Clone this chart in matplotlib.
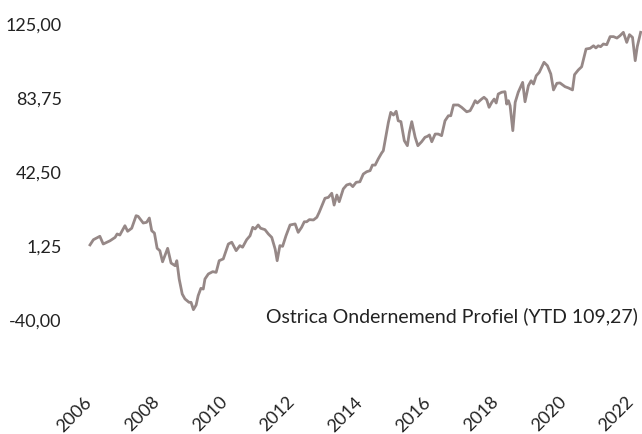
import matplotlib.pyplot as plt
from matplotlib import ticker

# decimal year / cumulative return (%)
years = [
    2006.03, 2006.13, 2006.32, 2006.42, 2006.62, 2006.77, 2006.83, 2006.91,
    2007.06, 2007.14, 2007.26, 2007.39, 2007.45, 2007.60, 2007.70, 2007.78,
    2007.85, 2007.93, 2008.01, 2008.09, 2008.17, 2008.32, 2008.42, 2008.54,
    2008.59, 2008.66, 2008.75, 2008.83, 2008.95, 2009.01, 2009.08, 2009.16,
    2009.22, 2009.30, 2009.37, 2009.42, 2009.52, 2009.65, 2009.75, 2009.84,
    2009.96, 2010.11, 2010.21, 2010.34, 2010.45, 2010.53, 2010.65, 2010.75,
    2010.83, 2010.90, 2010.99, 2011.06, 2011.19, 2011.29, 2011.39, 2011.49,
    2011.55, 2011.63, 2011.71, 2011.81, 2011.93, 2012.08, 2012.17, 2012.27,
    2012.35, 2012.42, 2012.50, 2012.62, 2012.72, 2012.79, 2012.96, 2013.06,
    2013.16, 2013.23, 2013.31, 2013.38, 2013.50, 2013.60, 2013.70, 2013.78,
    2013.88, 2013.99, 2014.09, 2014.19, 2014.29, 2014.36, 2014.44, 2014.53,
    2014.63, 2014.68, 2014.76, 2014.83, 2014.90, 2014.98, 2015.06, 2015.12,
    2015.20, 2015.30, 2015.39, 2015.45, 2015.52, 2015.62, 2015.70, 2015.81,
    2015.91, 2015.98, 2016.04, 2016.11, 2016.21, 2016.30, 2016.40, 2016.50,
    2016.60, 2016.67, 2016.75, 2016.89, 2016.99, 2017.14, 2017.24, 2017.32,
    2017.39, 2017.45, 2017.58, 2017.65, 2017.73, 2017.80, 2017.88, 2017.95,
    2018.01, 2018.07, 2018.17, 2018.27, 2018.32, 2018.37, 2018.42, 2018.50,
    2018.57, 2018.66, 2018.79, 2018.86, 2018.96, 2019.04, 2019.11, 2019.19,
    2019.28, 2019.42, 2019.52, 2019.62, 2019.70, 2019.80, 2019.89, 2020.04,
    2020.14, 2020.26, 2020.32, 2020.43, 2020.53, 2020.66, 2020.78, 2020.88,
    2020.95, 2021.02, 2021.09, 2021.17, 2021.27, 2021.37, 2021.47, 2021.57,
    2021.66, 2021.76, 2021.86, 2021.94, 2022.03, 2022.11, 2022.17, 2022.27,
]
values = [
    1.3, 4.2, 6.1, 1.8, 3.6, 5.5, 7.4, 6.8,
    12.0, 8.9, 10.6, 17.6, 17.2, 13.5, 13.9, 16.3,
    9.2, 7.9, -0.6, -1.9, -8.1, -0.6, -8.8, -10.3,
    -7.5, -17.7, -26.1, -28.8, -30.7, -30.7, -34.8, -32.2,
    -27.0, -22.9, -23.3, -17.7, -14.9, -13.6, -14.0, -7.5,
    -6.5, 1.8, 2.8, -1.9, 0.9, 0.0, 4.2, 6.4,
    11.1, 10.2, 12.4, 10.6, 9.8, 7.4, 5.5, -1.0,
    -7.5, 0.9, 0.5, 6.4, 12.4, 13.0, 8.3, 11.1,
    14.2, 14.2, 15.4, 15.2, 16.7, 19.5, 27.3, 27.8,
    30.1, 23.5, 29.1, 25.4, 32.5, 34.7, 35.3, 33.8,
    36.2, 36.5, 40.8, 42.1, 42.7, 45.8, 45.8, 49.2,
    52.5, 53.8, 62.2, 69.6, 75.2, 73.7, 75.8, 70.5,
    70.0, 59.4, 56.6, 64.1, 70.0, 61.3, 56.6, 58.8,
    61.3, 61.8, 62.6, 58.8, 63.1, 63.1, 62.2, 70.5,
    73.3, 73.3, 79.3, 79.3, 78.0, 75.5, 76.1, 78.9,
    81.7, 80.4, 82.6, 83.6, 82.2, 78.0, 80.8, 82.6,
    80.4, 85.4, 86.4, 86.7, 79.8, 81.7, 78.9, 65.0,
    80.8, 86.4, 91.9, 81.1, 90.1, 92.8, 91.0, 95.6,
    97.5, 103.1, 101.2, 96.6, 87.7, 91.4, 91.6, 89.5,
    88.8, 87.7, 96.2, 98.8, 100.6, 110.5, 110.9, 112.3,
    111.1, 112.3, 111.8, 113.3, 112.9, 117.4, 117.4, 116.6,
    117.9, 119.8, 114.2, 118.5, 117.0, 104.0, 111.8, 119.8,
]
x_ticks = [2006, 2008, 2010, 2012, 2014, 2016, 2018, 2020, 2022]
y_ticks = [-40.0, 1.25, 42.5, 83.75, 125.0]
label = "Ostrica Ondernemend Profiel (YTD 109,27)"

plt.rcParams['font.family'] = ['Lato', 'DejaVu Sans']

fig = plt.figure(figsize=(6.42, 4.35), dpi=100)
ax = fig.add_axes([70 / 642, 41 / 435, 572 / 642, 370 / 435])

ax.plot(years, values, color='#968887', linewidth=2.0, clip_on=False)

ax.set_xlim(2005.44, 2022.31)
ax.set_ylim(-81.25, 125.0)

ax.set_yticks(y_ticks)
ax.yaxis.set_major_formatter(ticker.FuncFormatter(lambda v, p: f"{v:.2f}".replace('.', ',')))
ax.set_xticks(x_ticks)
ax.set_xticklabels([str(y) for y in x_ticks], rotation=45, ha='right', va='center',
                   rotation_mode='anchor')

ax.tick_params(axis='both', length=0, labelsize=13, colors='#222222')
ax.tick_params(axis='y', pad=6)
ax.tick_params(axis='x', pad=4)

for s in ax.spines.values():
    s.set_visible(False)

fig.text(638 / 642, 1 - 316 / 435, label, ha='right', va='center',
         fontsize=14, color='#222222')

fig.savefig('out.png', dpi=100)
